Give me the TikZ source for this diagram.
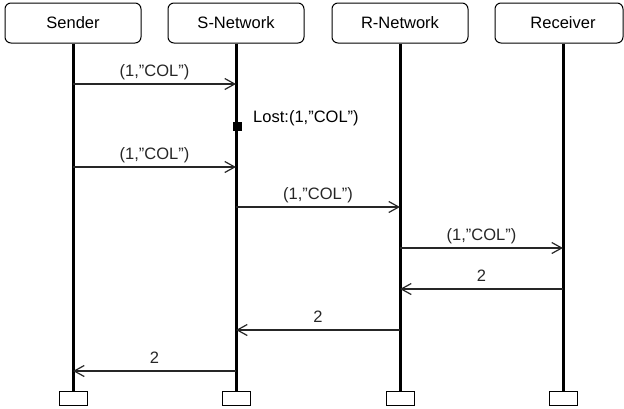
\documentclass[tikz,border=0pt]{standalone}
\usepackage{fontspec}
\setmainfont{Liberation Sans}
\usetikzlibrary{arrows.meta,positioning,calc}

\begin{document}
\begin{tikzpicture}[x=1pt, y=-1pt,
  every node/.style={font=\fontsize{16.5}{20}\selectfont},
  head/.style={draw=black, line width=1pt, rounded corners=6pt, minimum width=136pt, minimum height=40pt, inner sep=0pt},
  foot/.style={draw=black, line width=1pt, minimum width=28pt, minimum height=14pt, inner sep=0pt},
  life/.style={line width=3pt, black},
  msg/.style={line width=1.2pt, black!85, -{Straight Barb[length=10pt,width=11pt,line width=1.2pt]}},
  lbl/.style={above=4pt, inner sep=0pt, text depth=3pt},
  lostmark/.style={fill=black, minimum size=9pt, inner sep=0pt}]
  \useasboundingbox (0,0) rectangle (624,408);

  % lifeline heads
  \node (snd)  [head] at (73,23)  {Sender};
  \node (snet) [head] at (236,23) {S-Network};
  \node (rnet) [head] at (400,23) {R-Network};
  \node (rcv)  [head, minimum width=128pt] at (559,23) {\hspace*{8pt}Receiver};

  % lifeline ends
  \node (sndf)  [foot] at (73,398)  {};
  \node (snetf) [foot] at (236,398) {};
  \node (rnetf) [foot] at (400,398) {};
  \node (rcvf)  [foot] at (563,398) {};

  \draw [life] (snd) -- (sndf);
  \draw [life] (snet) -- (snetf);
  \draw [life] (rnet) -- (rnetf);
  \draw [life] (rcvf |- rcv.south) -- (rcvf);

  % message rows
  \foreach \r/\y in {r1/84, r2/126, r3/167, r4/207, r5/248, r6/289, r7/330, r8/371}
    \coordinate (\r) at (0,\y);

  \draw [msg] (snd |- r1) -- node [lbl] {(1,"COL")} (snet |- r1);

  \node (lost) [lostmark] at ([xshift=1pt]snet |- r2) {};
  \node (lostlbl) [anchor=base west] at ([xshift=8pt, yshift=4pt]lost.east) {Lost:(1,"COL")};

  \draw [msg] (snd |- r3)  -- node [lbl] {(1,"COL")} (snet |- r3);
  \draw [msg] (snet |- r4) -- node [lbl] {(1,"COL")} (rnet |- r4);
  \draw [msg] (rnet |- r5) -- node [lbl] {(1,"COL")} (rcvf |- r5);
  \draw [msg] (rcvf |- r6) -- node [lbl] {2} (rnet |- r6);
  \draw [msg] (rnet |- r7) -- node [lbl] {2} (snet |- r7);
  \draw [msg] (snet |- r8) -- node [lbl] {2} (snd |- r8);
\end{tikzpicture}
\end{document}
